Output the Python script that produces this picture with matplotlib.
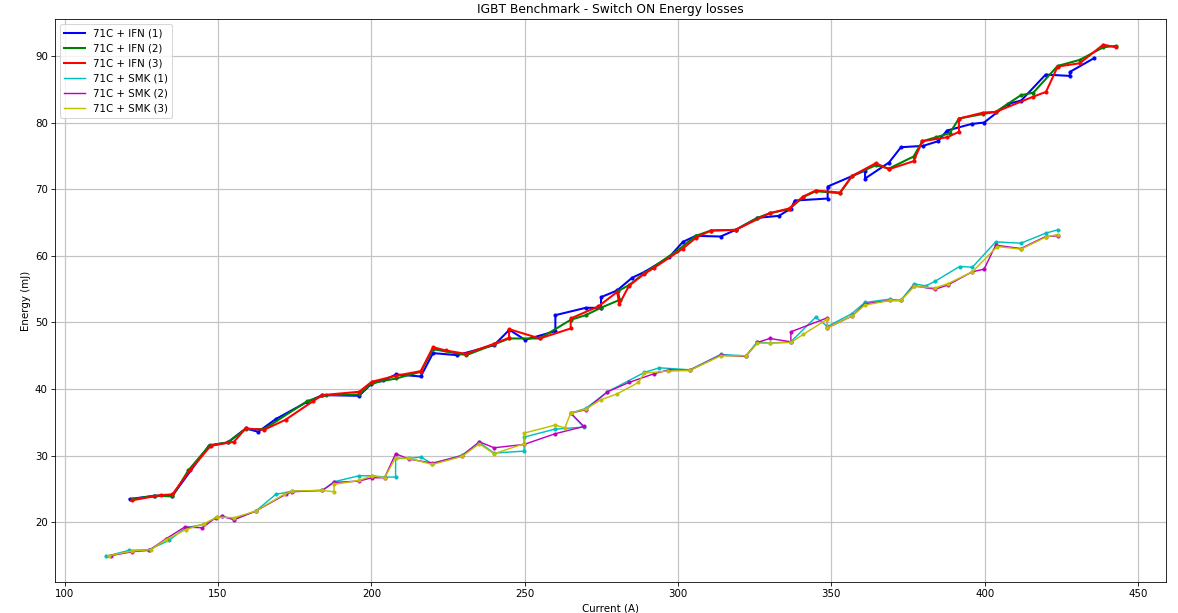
import matplotlib
matplotlib.use("Agg")
import matplotlib.pyplot as plt

# Switch-on energy (mJ) vs collector current (A), three runs per test setup
ifn1_current = [121.2, 129.1, 135.1, 147.0, 153.2, 159.0, 163.1, 168.8, 179.1, 184.0,
                196.0, 200.0, 203.8, 208.1, 216.1, 220.1, 228.0, 240.0, 245.0, 250.1,
                260.0, 260.0, 269.9, 274.9, 274.9, 280.1, 285.0, 289.1, 297.1, 301.6,
                305.8, 313.9, 318.8, 325.9, 332.9, 336.8, 338.1, 348.8, 348.8, 361.0,
                361.0, 368.8, 372.7, 379.9, 384.8, 387.7, 395.8, 399.8, 407.6, 411.9,
                419.9, 427.8, 427.8, 435.8]
ifn1_energy = [23.5, 24.0, 24.0, 31.5, 32.0, 34.1, 33.6, 35.5, 38.1, 39.1,
               39.0, 40.8, 41.3, 42.2, 41.9, 45.4, 45.1, 46.6, 48.9, 47.4,
               48.7, 51.1, 52.2, 52.2, 53.8, 54.8, 56.7, 57.6, 59.8, 62.1,
               63.0, 62.9, 63.9, 65.7, 66.0, 67.1, 68.3, 68.6, 70.4, 72.8,
               71.6, 74.0, 76.3, 76.5, 77.2, 78.8, 79.8, 80.0, 82.8, 83.3,
               87.2, 87.0, 87.6, 89.7]

ifn2_current = [122.0, 129.5, 135.1, 140.3, 147.3, 153.1, 159.0, 165.0, 179.1, 185.1,
                196.0, 200.1, 208.1, 216.1, 220.1, 231.0, 240.0, 244.9, 254.9, 265.0,
                269.9, 274.8, 281.0, 280.4, 284.0, 289.0, 299.8, 305.8, 310.7, 318.8,
                325.9, 329.9, 336.2, 340.8, 344.9, 352.8, 356.8, 364.5, 368.8, 376.8,
                379.7, 384.2, 388.6, 391.6, 399.6, 403.6, 411.8, 415.9, 423.8, 431.0,
                438.7, 442.7]
ifn2_energy = [23.5, 24.0, 23.9, 27.8, 31.6, 32.0, 34.0, 34.0, 38.2, 39.1,
               39.2, 40.9, 41.6, 42.6, 46.0, 45.1, 46.7, 47.6, 47.6, 50.4,
               51.1, 52.2, 53.4, 54.7, 55.6, 57.4, 60.8, 63.0, 63.8, 63.9,
               65.7, 66.4, 67.0, 68.8, 69.7, 69.4, 72.0, 73.6, 73.1, 74.9,
               77.2, 77.8, 78.4, 80.6, 81.3, 81.6, 84.1, 84.5, 88.5, 89.4,
               91.3, 91.5]

ifn3_current = [121.8, 131.3, 135.1, 140.8, 147.6, 155.2, 159.0, 165.0, 172.0, 181.0,
                184.0, 196.0, 200.1, 207.9, 216.1, 220.1, 224.2, 230.8, 240.0, 244.9,
                244.9, 254.9, 265.0, 265.0, 274.0, 280.2, 280.8, 284.0, 289.0, 292.2,
                301.6, 305.8, 310.7, 318.8, 329.9, 336.2, 340.8, 344.9, 352.8, 356.8,
                364.5, 368.8, 376.8, 379.7, 387.8, 391.6, 391.6, 399.6, 403.6, 415.9,
                420.0, 423.8, 431.0, 438.7, 442.7]
ifn3_energy = [23.3, 24.1, 24.2, 27.8, 31.5, 32.1, 34.1, 33.9, 35.4, 38.2,
               39.1, 39.6, 41.1, 42.0, 42.7, 46.3, 45.8, 45.3, 46.8, 47.7,
               49.0, 47.6, 49.1, 50.6, 52.4, 54.6, 52.7, 55.5, 57.3, 58.2,
               61.1, 62.7, 63.8, 63.9, 66.4, 67.1, 68.9, 69.8, 69.5, 72.0,
               73.9, 73.0, 74.2, 77.2, 77.8, 78.6, 80.6, 81.5, 81.6, 83.9,
               84.6, 88.4, 88.9, 91.7, 91.3]

smk1_current = [113.3, 120.9, 127.5, 134.0, 139.4, 145.4, 149.7, 151.4, 155.2, 162.3,
                168.8, 174.2, 184.0, 187.8, 196.0, 200.1, 204.3, 207.9, 207.9, 212.3,
                216.1, 219.9, 229.6, 235.2, 240.0, 249.8, 249.8, 259.9, 269.3, 265.0,
                269.9, 277.0, 289.0, 293.9, 303.8, 313.9, 322.1, 325.9, 329.9, 336.8,
                344.9, 348.7, 356.6, 360.9, 369.0, 372.6, 377.0, 380.8, 383.9, 391.8,
                396.0, 403.6, 411.8, 419.9, 423.8]
smk1_energy = [14.9, 15.8, 15.9, 17.3, 19.2, 19.7, 20.8, 20.9, 20.5, 21.7,
               24.2, 24.7, 24.8, 26.1, 27.0, 27.0, 26.8, 26.8, 29.6, 29.6,
               29.8, 28.8, 30.1, 32.0, 30.4, 30.7, 32.8, 34.0, 34.3, 36.4,
               37.1, 39.6, 42.5, 43.2, 42.9, 45.2, 45.0, 47.1, 46.9, 47.1,
               50.8, 49.4, 51.3, 53.0, 53.5, 53.3, 55.8, 55.5, 56.2, 58.4,
               58.3, 62.1, 61.9, 63.4, 63.9]

smk2_current = [115.0, 122.0, 127.5, 132.9, 139.1, 144.9, 149.2, 151.4, 155.2, 162.3,
                172.0, 174.2, 184.0, 187.8, 196.0, 200.1, 204.3, 207.9, 212.3, 219.9,
                229.6, 235.2, 240.0, 249.8, 259.9, 269.3, 265.0, 269.9, 277.0, 284.0,
                292.1, 297.0, 303.8, 313.9, 322.1, 325.9, 329.9, 336.8, 336.8, 348.7,
                348.7, 356.9, 360.9, 369.0, 372.6, 377.0, 383.9, 387.9, 395.9, 399.8,
                403.6, 411.8, 419.9, 423.8]
smk2_energy = [15.0, 15.6, 15.8, 17.5, 19.3, 19.2, 20.7, 20.9, 20.4, 21.7,
               24.2, 24.6, 24.8, 26.0, 26.2, 26.7, 26.7, 30.3, 29.5, 28.9,
               30.0, 32.1, 31.2, 31.7, 33.3, 34.4, 36.4, 36.9, 39.6, 41.0,
               42.3, 42.9, 42.8, 45.1, 44.9, 47.0, 47.6, 47.1, 48.6, 50.7,
               49.2, 51.0, 52.8, 53.3, 53.3, 55.5, 55.0, 55.6, 57.6, 58.0,
               61.6, 61.1, 62.9, 63.0]

smk3_current = [114.4, 122.0, 128.0, 133.0, 139.4, 145.4, 149.7, 155.2, 162.3, 171.5,
                174.2, 184.0, 187.8, 187.8, 196.0, 200.1, 204.3, 207.9, 212.3, 219.9,
                229.6, 235.2, 240.0, 249.8, 249.8, 259.9, 263.1, 265.0, 269.9, 274.8,
                280.2, 287.1, 289.0, 296.7, 303.8, 313.9, 322.1, 325.9, 329.9, 336.8,
                340.8, 348.7, 348.7, 356.9, 360.9, 369.0, 372.6, 377.0, 383.9, 387.9,
                396.0, 404.1, 411.8, 419.9, 423.8]
smk3_energy = [15.0, 15.7, 15.9, 17.4, 18.9, 19.8, 20.8, 20.7, 21.7, 24.2,
               24.7, 24.8, 24.6, 25.7, 26.3, 27.0, 26.7, 29.7, 29.6, 28.7,
               29.9, 31.8, 30.3, 31.8, 33.4, 34.6, 34.2, 36.4, 37.0, 38.4,
               39.3, 41.0, 42.4, 42.7, 42.8, 45.0, 45.0, 46.9, 46.9, 47.0,
               48.2, 50.5, 49.2, 51.0, 52.6, 53.3, 53.3, 55.4, 55.2, 55.8,
               57.6, 61.4, 61.0, 62.8, 63.2]

series = [
    (ifn1_current, ifn1_energy, 'b', 2.0, '71C + IFN (1)'),
    (ifn2_current, ifn2_energy, 'g', 2.0, '71C + IFN (2)'),
    (ifn3_current, ifn3_energy, 'r', 2.0, '71C + IFN (3)'),
    (smk1_current, smk1_energy, 'c', 1.4, '71C + SMK (1)'),
    (smk2_current, smk2_energy, 'm', 1.4, '71C + SMK (2)'),
    (smk3_current, smk3_energy, 'y', 1.4, '71C + SMK (3)'),
]

fig = plt.figure(figsize=(16, 8.326), dpi=73.625)
ax = fig.add_axes([0.0467, 0.0506, 0.9432, 0.9184])

for current, energy, color, lw, label in series:
    # line carries the legend entry, dots mark the measured points
    ax.plot(current, energy, '-', color=color, lw=lw, label=label)
    ax.plot(current, energy, '.', color=color)

ax.set_title('IGBT Benchmark - Switch ON Energy losses')
ax.set_xlabel('Current (A)')
ax.set_ylabel('Energy (mJ)')
ax.grid(True, color='#c4c4c4', lw=1.2)
ax.legend(loc='upper left')

fig.savefig('out.png', dpi=fig.dpi)
